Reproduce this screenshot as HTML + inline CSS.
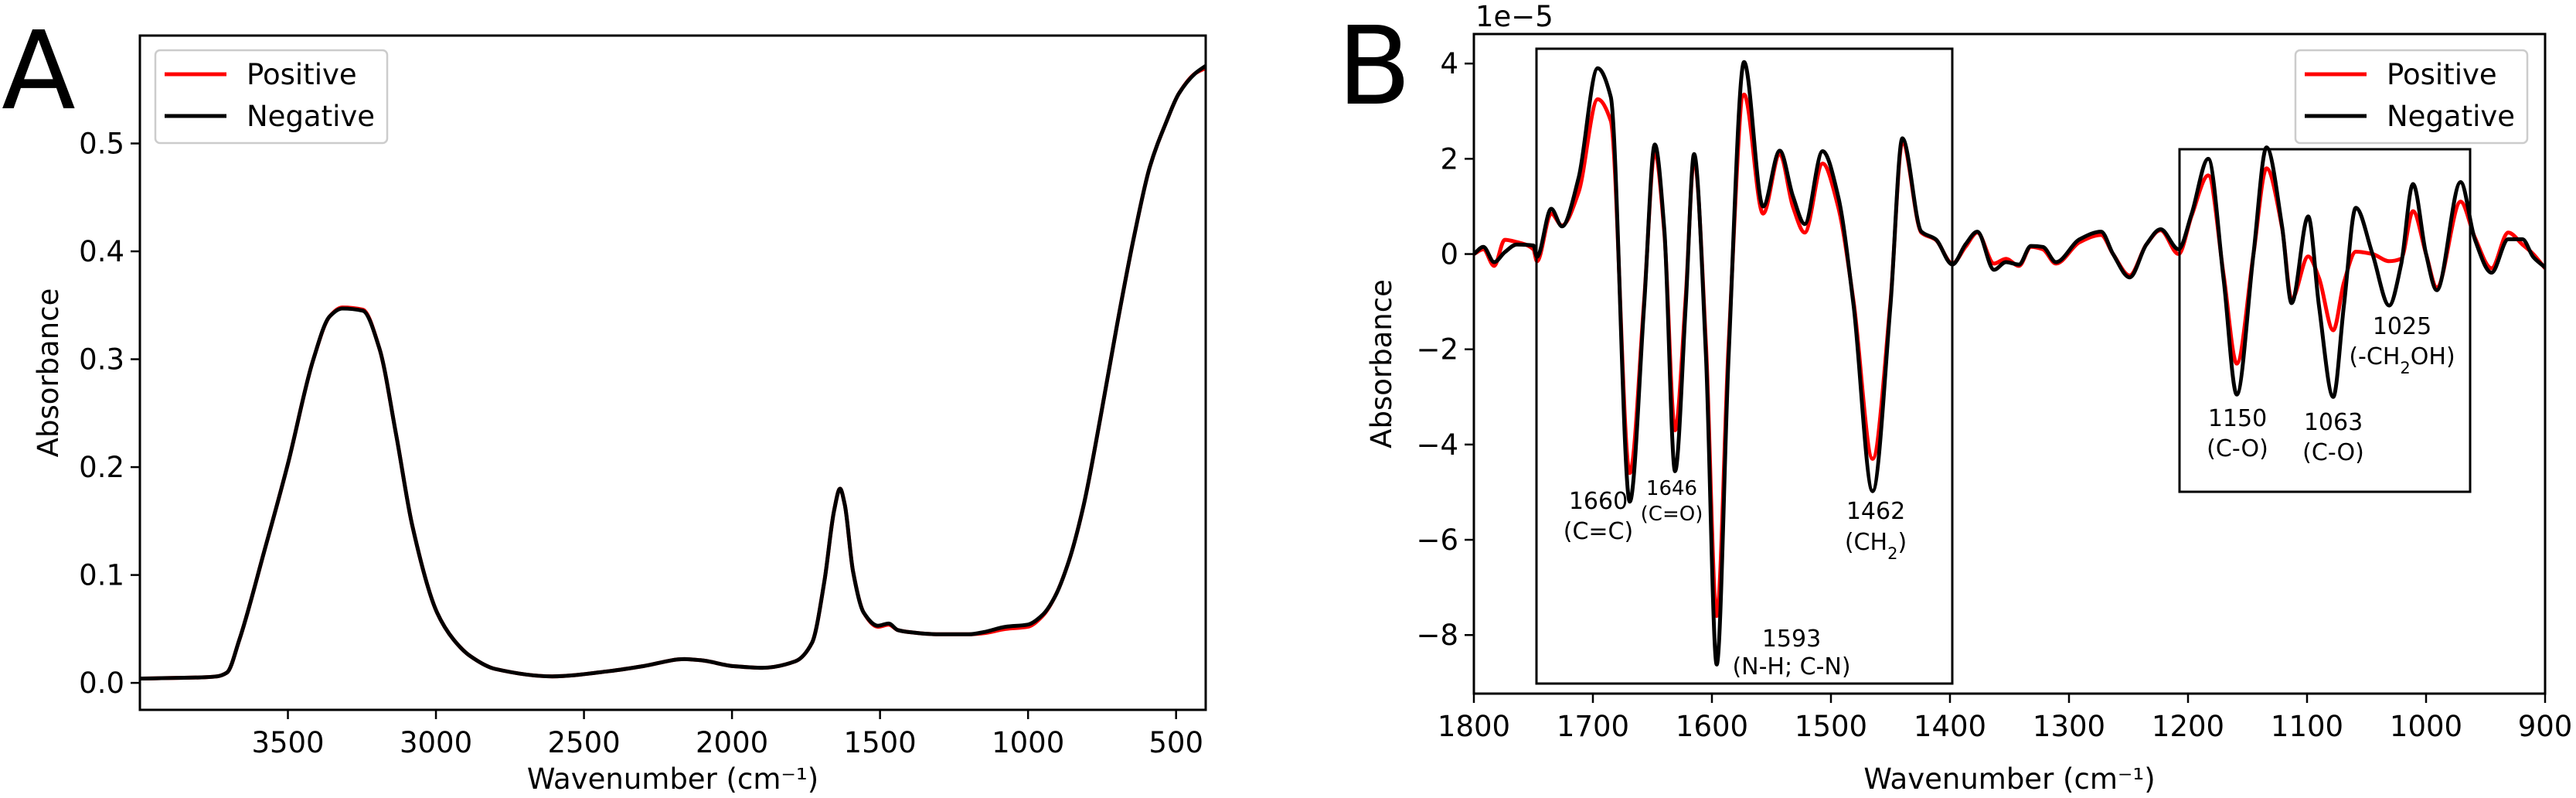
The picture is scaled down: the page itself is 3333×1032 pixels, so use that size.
<!DOCTYPE html>
<html><head><meta charset="utf-8"><style>body{margin:0;background:#fff}svg{display:block}text{font-family:"DejaVu Sans","Liberation Sans",sans-serif;fill:#000}</style></head>
<body>
<svg id="fig" width="3333" height="1032" viewBox="0 0 3333 1032" xmlns="http://www.w3.org/2000/svg">
<g id="pa"></g>
<g id="pb"></g>
</svg>
<script>
// Panel A data
const aWave=[4000,3800,3740,3706,3664,3580,3500,3414,3358,3316,3247,3191,3135,3080,2996,2940,2885,2801,2607,2412,2300,2161,2106,1994,1897,1786,1730,1688,1655,1635,1619,1591,1555,1507,1471,1440,1400,1300,1200,1150,1076,1001,951,909,862,812,756,700,644,589,533,491,435,400];
const aNeg=[0.004,0.005,0.006,0.0095,0.040,0.122,0.203,0.30,0.34,0.347,0.345,0.31,0.231,0.146,0.065,0.040,0.025,0.013,0.006,0.011,0.0155,0.022,0.021,0.0155,0.014,0.020,0.037,0.094,0.160,0.180,0.165,0.103,0.065,0.053,0.055,0.049,0.047,0.045,0.045,0.047,0.052,0.054,0.063,0.080,0.113,0.165,0.245,0.331,0.411,0.478,0.52,0.546,0.565,0.572];
const aPos=[0.004,0.005,0.006,0.0095,0.040,0.122,0.203,0.30,0.34,0.348,0.346,0.31,0.231,0.146,0.065,0.040,0.025,0.013,0.006,0.011,0.0155,0.022,0.021,0.0155,0.014,0.020,0.037,0.094,0.160,0.180,0.165,0.103,0.065,0.052,0.054,0.049,0.047,0.045,0.045,0.046,0.050,0.052,0.062,0.080,0.113,0.165,0.245,0.331,0.411,0.478,0.52,0.546,0.565,0.570];
const aXTicks=[3500,3000,2500,2000,1500,1000,500];
const aYTicks=[0.0,0.1,0.2,0.3,0.4,0.5];
// Panel B data (units of 1e-5)
const bWave=[1800,1792,1783,1774,1764,1750,1747,1735,1726,1712,1696,1685,1669,1657,1648,1640,1631,1622,1615,1605,1596,1586,1573,1557,1543,1532,1522,1507,1494,1481,1465,1450,1440,1424,1412,1398,1387,1377,1363,1353,1342,1332,1322,1311,1291,1273,1263,1249,1235,1223,1208,1197,1183,1170,1159,1145,1134,1121,1113,1099,1090,1078,1069,1059,1045,1031,1021,1011,1000,991,971,959,945,931,919,910,900];
const bNeg=[0.0,0.15,-0.17,0.04,0.2,0.18,-0.06,0.95,0.58,1.6,3.9,3.3,-5.2,-1.1,2.3,0.52,-4.56,-1.08,2.1,-2.15,-8.62,-2.15,4.03,1.0,2.17,1.22,0.63,2.16,1.22,-1.08,-4.98,-1.08,2.43,0.47,0.31,-0.22,0.2,0.47,-0.33,-0.17,-0.22,0.17,0.15,-0.17,0.31,0.47,0.0,-0.49,0.2,0.52,0.1,0.84,2.0,-0.55,-2.95,0.0,2.24,0.58,-1.03,0.79,-1.08,-3.0,-1.08,0.97,0.0,-1.08,-0.22,1.47,0.0,-0.76,1.51,0.31,-0.39,0.31,0.31,-0.06,-0.28];
const bPos=[0.0,0.1,-0.25,0.3,0.25,0.1,-0.15,0.85,0.6,1.3,3.25,2.8,-4.6,-1.0,2.15,0.45,-3.7,-0.9,2.0,-1.9,-7.6,-1.9,3.35,0.85,2.1,1.0,0.45,1.9,1.0,-1.0,-4.3,-1.0,2.35,0.45,0.3,-0.2,0.15,0.45,-0.2,-0.1,-0.25,0.15,0.1,-0.2,0.25,0.4,0.0,-0.45,0.2,0.5,0.0,0.8,1.65,-0.45,-2.3,0.0,1.8,0.55,-0.95,-0.05,-0.5,-1.6,-0.6,0.05,0.0,-0.15,-0.1,0.9,0.0,-0.7,1.1,0.35,-0.3,0.45,0.2,0.0,-0.3];
const bXTicks=[1800,1700,1600,1500,1400,1300,1200,1100,1000,900];
const bYTicks=[4,2,0,-2,-4,-6,-8];

const NS="http://www.w3.org/2000/svg";
function mk(p,tag,at,txt){const e=document.createElementNS(NS,tag);for(const k in at)e.setAttribute(k,at[k]);if(txt!==undefined)e.textContent=txt;p.appendChild(e);return e;}
// monotone cubic (Fritsch-Carlson) in pixel space
function pathD(xs,ys,sx,sy){const X=xs.map(sx),Y=ys.map(sy),n=X.length;const d=[],m=new Array(n);
for(let i=0;i<n-1;i++)d.push((Y[i+1]-Y[i])/(X[i+1]-X[i]));
m[0]=d[0];m[n-1]=d[n-2];
for(let i=1;i<n-1;i++){if(d[i-1]*d[i]<=0)m[i]=0;else{const h0=X[i]-X[i-1],h1=X[i+1]-X[i];const w1=2*h1+h0,w2=h1+2*h0;m[i]=(w1+w2)/(w1/d[i-1]+w2/d[i]);}}
let s="M"+X[0].toFixed(1)+","+Y[0].toFixed(1);
for(let i=0;i<n-1;i++){const h=(X[i+1]-X[i])/3;
s+=" C"+(X[i]+h).toFixed(1)+","+(Y[i]+m[i]*h).toFixed(1)+" "+(X[i+1]-h).toFixed(1)+","+(Y[i+1]-m[i+1]*h).toFixed(1)+" "+X[i+1].toFixed(1)+","+Y[i+1].toFixed(1);}
return s;}
function fmtMinus(v,dec){return (v<0?"\u2212":"")+Math.abs(v).toFixed(dec);}

function panel(g,o){
 const sx=v=>o.L+(v-o.x0)/(o.x1-o.x0)*(o.R-o.L), sy=v=>o.B-(v-o.y0)/(o.y1-o.y0)*(o.B-o.T);
 const cp=mk(g,"clipPath",{id:o.id+"clip"});mk(cp,"rect",{x:o.L,y:o.T,width:o.R-o.L,height:o.B-o.T});
 let e;
 o.xt.forEach(t=>{e=mk(g,"line",{x1:sx(t),x2:sx(t),y1:o.B,y2:o.B+12,stroke:"#000","stroke-width":2.5});
 
 e=mk(g,"text",{x:sx(t),y:o.B+55,"font-size":37,"text-anchor":"middle"},String(t));
 });
 o.yt.forEach(t=>{e=mk(g,"line",{x1:o.L-12,x2:o.L,y1:sy(t),y2:sy(t),stroke:"#000","stroke-width":2.5});
 
 e=mk(g,"text",{x:o.L-20,y:sy(t)+13,"font-size":37,"text-anchor":"end"},fmtMinus(t,o.dec));
 });
 const lg=mk(g,"g",{"clip-path":"url(#"+o.id+"clip)"});
 e=mk(lg,"path",{d:pathD(o.xs,o.pos,sx,sy),fill:"none",stroke:"#ff0000","stroke-width":5,"stroke-linejoin":"round"});
 
 e=mk(lg,"path",{d:pathD(o.xs,o.neg,sx,sy),fill:"none",stroke:"#000","stroke-width":5,"stroke-linejoin":"round"});
 
 e=mk(g,"rect",{x:o.L,y:o.T,width:o.R-o.L,height:o.B-o.T,fill:"none",stroke:"#000","stroke-width":3});
 
 e=mk(g,"text",{x:(o.L+o.R)/2,y:1020,"font-size":37,"text-anchor":"middle"},"Wavenumber (cm\u207B\u00B9)");
 
 e=mk(g,"text",{x:0,y:0,"font-size":37,"text-anchor":"middle",transform:"translate("+o.ylx+","+(o.T+o.B)/2+") rotate(-90)"},"Absorbance");
 
 const lgd=mk(g,"g",{});
 mk(lgd,"rect",{x:o.lx,y:65,width:300,height:120,rx:6,fill:"#fff",stroke:"#ccc","stroke-width":2.5});
 mk(lgd,"line",{x1:o.lx+12,x2:o.lx+92,y1:96,y2:96,stroke:"#ff0000","stroke-width":5});
 e=mk(lgd,"text",{x:o.lx+118,y:109,"font-size":37},"Positive");
 mk(lgd,"line",{x1:o.lx+12,x2:o.lx+92,y1:150,y2:150,stroke:"#000","stroke-width":5});
 e=mk(lgd,"text",{x:o.lx+118,y:163,"font-size":37},"Negative");
 return {sx,sy};
}
const ga=document.getElementById("pa"),gb=document.getElementById("pb");
panel(ga,{id:"a",L:181,R:1560,T:46,B:918,x0:4000,x1:400,y0:-0.025,y1:0.6,xs:aWave,pos:aPos,neg:aNeg,xt:aXTicks,yt:aYTicks,dec:1,ylx:75,lx:201});
panel(gb,{id:"b",L:1907,R:3293,T:44,B:897,x0:1800,x1:900,y0:-9.23,y1:4.62,xs:bWave,pos:bPos,neg:bNeg,xt:bXTicks,yt:bYTicks,dec:0,ylx:1800,lx:2970});
let e;
e=mk(ga,"text",{x:2,y:140,"font-size":140},"A");
e=mk(gb,"text",{x:1730,y:134,"font-size":140},"B");
e=mk(gb,"text",{x:1909,y:34,"font-size":37},"1e\u22125");
e=mk(gb,"rect",{x:1988,y:63,width:538,height:821,fill:"none",stroke:"#000","stroke-width":3});
e=mk(gb,"rect",{x:2820,y:193,width:376,height:443,fill:"none",stroke:"#000","stroke-width":3});
const ann=[[2068,658,697,"1660","(C=C)",30],[2163,640,673,"1646","(C=O)",26],[2318,836,872,"1593","(N-H; C-N)",30],[2427,671,711,"1462","(CH|2|)",30],[2895,551,590,"1150","(C-O)",30],[3019,556,595,"1063","(C-O)",30],[3108,432,471,"1025","(-CH|2|OH)",30]];
ann.forEach(a=>{const t=mk(gb,"text",{x:a[0],y:a[1],"font-size":a[5],"text-anchor":"middle"},a[3]);

const t2=mk(gb,"text",{x:a[0],y:a[2],"font-size":a[5],"text-anchor":"middle"});

a[4].split("|").forEach((s,i)=>{mk(t2,"tspan",i===1?{"baseline-shift":"sub","font-size":a[5]*0.7}:{},s);});});
</script>
</body></html>
